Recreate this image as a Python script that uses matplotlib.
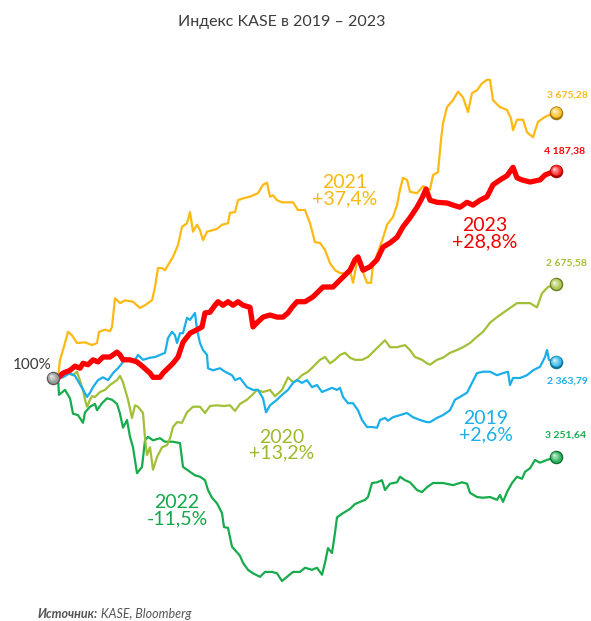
import matplotlib
matplotlib.use("Agg")
import matplotlib.pyplot as plt
import matplotlib.transforms as mtransforms
import numpy as np

# ---------------- data (index, start of year = 100%) ----------------
# x = trading day of the year, y = index level in % of the 1st day
days_2021 = [0, 1, 2.5, 5, 7, 9.5, 13.5, 17, 19.5, 20.5, 23.5, 26, 27, 28.5, 31, 33.5, 37.5, 41, 43.5, 47,
             48.5, 50, 52, 53.5, 56, 57.5, 60, 62, 64.5, 66, 67.5, 69.5, 71, 72.5, 74.5, 77, 79.5, 82, 85, 86,
             88.5, 90, 93, 96, 97.5, 100, 102.5, 104.5, 106, 107.5, 109.5, 112, 114.5, 117.5, 120, 123.5, 126,
             128.5, 131, 133.5, 136, 138.5, 141, 144.5, 146, 147.5, 149.5, 151, 153, 154.5, 156.5, 157.5, 160,
             162.5, 164.5, 167.5, 169.5, 171, 172.5, 174.5, 176, 179.5, 182.5, 186, 187.5, 190, 191.5, 192.5,
             194.5, 197.5, 200, 202.5, 205, 207, 209.5, 212, 214.5, 216, 217.5, 219.5, 221, 224.5, 226.5, 227.5,
             229.5, 232.5, 234.5, 237.5, 240, 243.5, 246, 249]
vals_2021 = [100.0, 102.6, 104.0, 106.6, 106.1, 105.0, 105.1, 104.7, 105.0, 106.6, 106.9, 106.7, 107.3, 111.4,
             110.7, 111.1, 110.9, 110.0, 110.4, 111.1, 113.0, 115.7, 115.7, 115.4, 116.6, 117.3, 119.0, 121.6,
             122.1, 123.7, 120.9, 121.9, 121.1, 119.7, 120.9, 121.1, 121.3, 121.9, 122.1, 123.6, 123.7, 125.4,
             125.7, 125.9, 126.1, 126.4, 127.6, 127.9, 125.9, 126.1, 125.4, 125.1, 125.1, 125.1, 124.0, 124.0,
             122.1, 119.4, 119.3, 118.3, 116.4, 115.4, 115.0, 115.0, 115.4, 113.6, 116.6, 116.9, 114.7, 113.6,
             113.6, 116.1, 118.0, 120.0, 121.9, 123.0, 124.7, 126.9, 128.6, 128.3, 126.6, 126.4, 127.4, 126.9,
             129.0, 129.4, 134.0, 136.4, 138.7, 139.7, 140.9, 140.1, 138.0, 140.7, 141.1, 142.1, 142.6, 142.6,
             139.7, 139.1, 138.7, 138.3, 137.1, 135.4, 136.9, 136.9, 135.1, 134.4, 136.6, 137.3, 137.6, 137.9]

days_2023 = [0, 2.5, 6, 8.5, 11, 12.5, 15, 17.5, 20, 22.5, 26, 29.5, 31, 32.5, 36, 39.5, 42.5, 46, 47.5, 51,
             52.5, 55, 57.5, 60, 62.5, 66, 69.5, 72, 73.5, 76, 78.5, 80, 82.5, 85, 87.5, 90, 92.5, 96, 97.5,
             99.5, 102.5, 106, 109.5, 112.5, 115, 117, 119.5, 123.5, 127.5, 130, 132.5, 137.5, 141, 143.5, 146,
             148.5, 150, 152.5, 156, 159.5, 162.5, 166, 169.5, 172.5, 176, 179.5, 182, 184, 186, 189.5, 194.5,
             197.5, 201, 204.5, 207.5, 211, 214.5, 217.5, 221, 224.5, 227.5, 229.5, 232, 236, 241, 243.5, 247, 249]
vals_2023 = [100.0, 100.7, 101.1, 101.7, 101.4, 102.1, 101.9, 102.6, 102.3, 103.0, 103.0, 103.7, 103.3, 102.6,
             102.6, 102.3, 101.6, 100.7, 100.1, 100.1, 100.7, 101.4, 102.1, 103.0, 105.1, 106.4, 106.9, 107.3,
             109.3, 109.4, 110.4, 110.9, 110.4, 110.9, 110.4, 110.9, 110.4, 110.1, 107.3, 107.9, 108.7, 109.0,
             108.7, 108.7, 109.3, 110.1, 110.9, 110.9, 111.6, 112.3, 113.0, 113.0, 114.0, 114.7, 115.4, 116.9,
             117.3, 115.4, 115.9, 116.9, 118.7, 119.3, 120.1, 121.6, 122.9, 124.4, 125.7, 127.0, 125.4, 125.1,
             125.0, 124.7, 124.4, 125.1, 124.7, 125.4, 125.9, 127.6, 128.3, 128.9, 130.1, 128.6, 128.3, 128.0,
             128.3, 129.0, 129.4, 129.6]

days_2020 = [0, 2.5, 4.5, 7.5, 9.5, 11, 12.5, 13.5, 14.5, 16, 17, 18.5, 21, 23.5, 26, 29.5, 31, 32.5, 35, 37,
             38.5, 40, 42.5, 43.5, 44.5, 46, 47.5, 49.5, 52, 54.5, 56, 57.5, 59.5, 62, 64.5, 67.5, 71, 73.5, 76,
             79.5, 83, 86, 88.5, 91, 94.5, 97.5, 99.5, 102.5, 106, 108.5, 112, 115, 117.5, 119.5, 122, 125,
             127.5, 131, 133.5, 136, 138.5, 141, 143.5, 146, 148.5, 152, 155, 158.5, 161, 163.5, 166, 169.5,
             173.5, 176, 178.5, 182, 184.5, 186, 189.5, 192.5, 196, 199.5, 202.5, 206, 209.5, 212.5, 216, 219.5,
             222.5, 226, 229.5, 232.5, 236, 239.5, 242, 245, 249]
vals_2020 = [100.0, 100.4, 100.7, 100.4, 100.9, 99.6, 98.3, 96.9, 95.9, 96.9, 97.4, 97.3, 98.0, 98.3, 99.0,
             99.7, 100.3, 99.4, 96.9, 94.3, 96.1, 95.9, 95.0, 91.4, 89.0, 90.1, 86.9, 88.7, 90.1, 90.4, 91.4,
             93.0, 93.7, 93.6, 95.1, 95.9, 95.9, 95.0, 96.0, 96.1, 96.0, 96.1, 95.3, 96.3, 96.9, 97.7, 98.3,
             98.0, 98.3, 97.4, 98.3, 100.1, 99.4, 99.7, 100.4, 100.9, 101.6, 102.6, 103.0, 102.1, 102.6, 103.3,
             103.6, 102.9, 102.6, 102.6, 103.0, 104.0, 104.7, 105.4, 104.4, 104.4, 104.7, 104.0, 103.0, 102.6,
             102.1, 101.9, 102.6, 102.9, 103.6, 104.0, 104.4, 105.0, 105.9, 106.6, 107.9, 108.7, 109.3, 110.0,
             110.7, 110.7, 110.7, 110.1, 112.1, 113.0, 113.4]

days_2019 = [0, 2.5, 6, 8.5, 12, 14.5, 16, 17.5, 20, 22.5, 25, 27.5, 30, 32, 33.5, 36, 38.5, 40, 42.5, 46,
             48.5, 51, 53.5, 55, 57, 58.5, 59.5, 61, 62.5, 64.5, 66, 68.5, 69.5, 71, 72.5, 74.5, 75, 77.5, 81,
             83.5, 87, 88.5, 91, 94.5, 97.5, 100, 102.5, 104, 106, 109.5, 112, 115, 117.5, 119.5, 122, 124.5,
             127, 129.5, 132, 134.5, 137, 139.5, 141, 142.5, 145, 147.5, 150, 152, 154.5, 157, 159.5, 161,
             163.5, 165, 167.5, 171, 174.5, 177.5, 181, 184.5, 186, 189.5, 192.5, 196, 198.5, 201, 204.5, 207,
             209.5, 212.5, 216, 219.5, 222.5, 225, 226, 227.5, 231, 234.5, 237.5, 241, 243.5, 244.5, 245.5, 249]
vals_2019 = [100.0, 100.1, 100.7, 100.3, 98.6, 97.3, 97.9, 98.7, 99.7, 100.1, 99.7, 100.7, 101.4, 102.1,
             102.9, 102.6, 102.6, 103.3, 102.6, 102.9, 103.0, 103.3, 103.6, 105.7, 106.6, 106.1, 105.0, 106.4,
             106.4, 108.6, 108.3, 109.3, 106.9, 105.0, 104.0, 103.3, 101.4, 101.1, 101.4, 100.9, 100.4, 99.7,
             100.0, 98.7, 98.3, 98.3, 97.1, 95.1, 96.1, 96.9, 97.6, 98.3, 99.3, 99.7, 99.3, 99.7, 98.7, 99.0,
             98.0, 98.3, 98.6, 98.3, 98.6, 97.3, 96.4, 96.4, 95.4, 94.0, 93.0, 93.0, 92.9, 94.0, 94.3, 93.9,
             94.4, 94.7, 95.0, 94.4, 94.0, 93.7, 93.7, 94.3, 94.7, 95.4, 96.9, 97.3, 97.9, 99.3, 100.7, 100.9,
             100.9, 100.4, 100.7, 100.9, 99.0, 100.0, 100.0, 100.4, 101.1, 101.6, 103.0, 104.0, 102.6, 102.3]

days_2022 = [0, 0.5, 3.5, 6, 7.5, 10, 12.5, 13.5, 16, 18.5, 19.5, 22, 24.5, 27, 29.5, 31, 32.5, 34.5, 36,
             37.5, 39.5, 42, 43.5, 45, 47.5, 51, 53.5, 57.5, 61, 62.5, 66, 68.5, 71, 73.5, 75, 77, 79.5, 82, 83,
             85, 87, 89.5, 91, 92.5, 95, 97.5, 101, 103.5, 107, 109.5, 112, 114.5, 117.5, 121, 123.5, 127,
             129.5, 132, 133.5, 135, 137, 138.5, 139.5, 142.5, 146, 148.5, 151, 153.5, 155, 157, 159.5, 162,
             163.5, 166, 169.5, 171, 173.5, 176, 179.5, 182, 184.5, 187.5, 192.5, 197.5, 202, 204.5, 206,
             209.5, 212.5, 216, 219.5, 221, 222.5, 224.5, 227, 229.5, 232, 233.5, 236, 238.5, 241, 244.5, 249]
vals_2022 = [100.0, 97.6, 98.3, 97.1, 94.9, 94.7, 93.6, 95.1, 95.9, 96.3, 95.4, 96.4, 97.1, 96.9, 96.3, 94.9,
             92.9, 94.0, 91.6, 90.1, 86.4, 87.3, 91.1, 91.6, 91.1, 91.4, 90.9, 90.9, 90.7, 87.3, 86.6, 86.1,
             85.9, 85.4, 84.0, 82.9, 82.1, 80.7, 78.7, 78.6, 75.9, 75.1, 74.6, 73.6, 72.6, 72.1, 71.6, 72.3,
             72.3, 72.1, 71.0, 71.6, 72.3, 72.3, 72.9, 72.6, 72.9, 71.9, 73.6, 75.7, 75.0, 77.9, 80.1, 80.7,
             81.3, 82.0, 82.3, 82.6, 83.0, 85.0, 85.1, 85.4, 84.0, 84.9, 85.1, 85.9, 85.4, 85.1, 84.0, 83.7,
             84.4, 85.0, 85.0, 84.7, 85.1, 84.9, 83.6, 83.0, 82.9, 83.0, 82.6, 83.3, 82.3, 83.7, 85.0, 85.9,
             85.6, 86.6, 87.1, 88.3, 87.9, 88.3, 88.7]

years = ["2019", "2020", "2021", "2022", "2023"]
changes = ["+2,6%", "+13,2%", "+37,4%", "-11,5%", "+28,8%"]
end_values = ["2 363,79", "2 675,58", "3 675,28", "3 251,64", "4 187,38"]
start_label = "100%"
title = "Индекс KASE в 2019 – 2023"
source_bold = "Источник:"
source_rest = " KASE, Bloomberg"

# ---------------- styling ----------------
FONT = ["Lato", "DejaVu Sans"]
plt.rcParams["font.family"] = FONT

colors = {"2019": "#1AAFE9", "2020": "#A2C037", "2021": "#FDB913", "2022": "#16AB4C", "2023": "#FF0000"}
widths = {"2019": 1.6, "2020": 1.6, "2021": 1.6, "2022": 1.6, "2023": 3.8}
series = {"2019": (days_2019, vals_2019), "2020": (days_2020, vals_2020), "2021": (days_2021, vals_2021),
          "2022": (days_2022, vals_2022), "2023": (days_2023, vals_2023)}
draw_order = ["2022", "2020", "2019", "2021", "2023"]

W, H = 591, 621
fig = plt.figure(figsize=(W / 100, H / 100), dpi=100)
ax = fig.add_axes([0, 0, 1, 1])
ax.set_xlim(-29, 266.5)
ax.set_ylim(65.29, 154.0)
ax.axis("off")

for i, y in enumerate(draw_order):
    d, v = series[y]
    ax.plot(d, v, color=colors[y], lw=widths[y], solid_joinstyle="round",
            solid_capstyle="round", zorder=2 + i)


def lighten(c, f):
    c = np.array(matplotlib.colors.to_rgb(c))
    return tuple(c + (1 - c) * f)


def darken(c, f):
    c = np.array(matplotlib.colors.to_rgb(c))
    return tuple(c * (1 - f))


def sphere(x, y, color, z=20, size=13.5):
    # concentric discs shifted toward the upper left: pseudo 3D ball
    n = 9
    for k in range(n):
        frac = k / (n - 1)
        s = size * (1 - 0.85 * frac)
        off = 2.6 * frac
        tr = mtransforms.offset_copy(ax.transData, fig=fig, x=-off * 0.75, y=off * 0.75, units="dots")
        if frac < 0.15:
            col = darken(color, 0.35)
        else:
            col = lighten(color, 0.05 + 0.75 * frac ** 1.6)
        ax.scatter([x], [y], s=s ** 2 * 0.52, color=col, lw=0, transform=tr, zorder=z + k * 0.01)


for y in years:
    d, v = series[y]
    sphere(d[-1], v[-1], colors[y])
sphere(days_2019[0] - 2.5, 100.0, "#8c8c8c")

# end values
end_offsets = {"2019": (8, -14), "2020": (7.5, 15), "2021": (8, 13), "2022": (7, 16), "2023": (6, 14)}
for y, val in zip(years, end_values):
    d, v = series[y]
    ax.annotate(val, xy=(d[-1], v[-1]), xytext=end_offsets[y], textcoords="offset points",
                ha="center", va="center", fontsize=7.5, fontweight="bold", color=colors[y], zorder=30)

# year labels
label_pos = {"2019": (214, 93.0), "2020": (112, 90.4), "2021": (143.5, 126.7), "2022": (59.5, 81.0),
             "2023": (213.5, 120.6)}
label_colors = {"2019": "#1AAFE9", "2020": "#9CBB2C", "2021": "#F9B712", "2022": "#13A84A", "2023": "#F00000"}
for y, ch in zip(years, changes):
    ax.text(*label_pos[y], f"{y}\n{ch}", ha="center", va="center", fontsize=14, color=label_colors[y],
            linespacing=0.95, zorder=30)

ax.text(-3, 101.9, start_label, ha="right", va="center", fontsize=11, color="#3a3a3a", zorder=30)

fig.text(281.5 / W, 1 - 22 / H, title, ha="center", va="center", fontsize=11.5, color="#3c3c3c")
t1 = fig.text(38 / W, 1 - 614 / H, source_bold, ha="left", va="center", fontsize=9, color="#555555",
              style="italic", fontweight="bold")
ax.annotate(source_rest, xy=(1, 0.5), xycoords=t1, ha="left", va="center", fontsize=9,
            color="#555555", style="italic")

fig.savefig("out.png", dpi=100, facecolor="white")
